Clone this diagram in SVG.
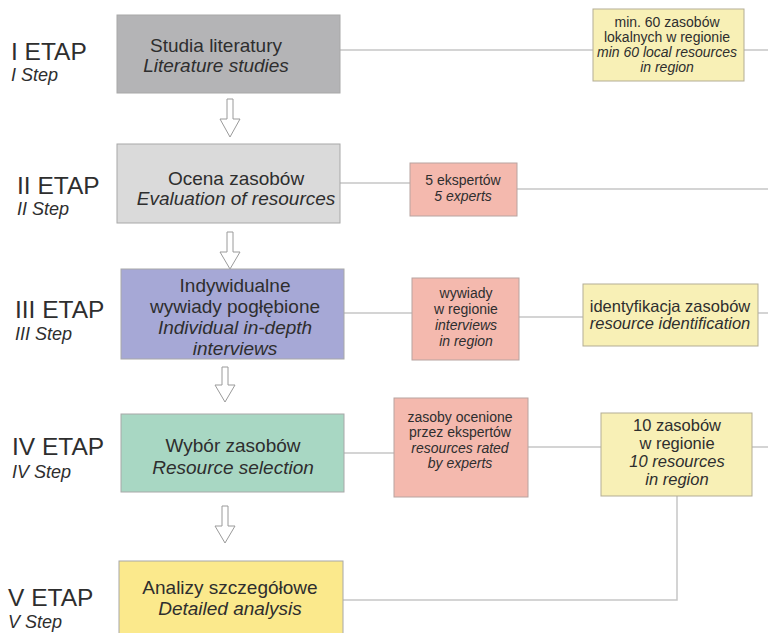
<svg xmlns="http://www.w3.org/2000/svg" width="768" height="633" viewBox="0 0 768 633">
<defs>
<style>
text{font-family:"Liberation Sans",Arial,sans-serif;fill:#2e2e2e;}
.it{font-style:italic;}
.main{font-size:19px;text-anchor:middle;}
.etap{font-size:24.5px;}
.step{font-size:18px;font-style:italic;}
.sm{font-size:14px;text-anchor:middle;}
.md{font-size:16.5px;text-anchor:middle;}
.box{stroke:#a8a8a8;stroke-width:1;}
.pink{fill:#f4b9ae;stroke:#b8a3a0;stroke-width:1;}
.yel{fill:#f8f0b6;stroke:#b3ad95;stroke-width:1;}
.conn{fill:none;stroke:#c6c6c6;stroke-width:1.5;}
.arr{fill:#fff;stroke:#9a9a9a;stroke-width:1;}
</style>
</defs>
<rect width="768" height="633" fill="#fff"/>

<g id="connectors">
<line class="conn" x1="340" y1="50" x2="593" y2="50"/>
<line class="conn" x1="744" y1="50" x2="768" y2="50"/>
<line class="conn" x1="340" y1="183" x2="410" y2="183"/>
<line class="conn" x1="517" y1="189" x2="768" y2="189"/>
<line class="conn" x1="344" y1="313" x2="412" y2="313"/>
<line class="conn" x1="519" y1="317" x2="583" y2="317"/>
<line class="conn" x1="758" y1="313" x2="768" y2="313"/>
<line class="conn" x1="344" y1="453" x2="394" y2="453"/>
<line class="conn" x1="528" y1="447" x2="601" y2="447"/>
<line class="conn" x1="752" y1="447" x2="768" y2="447"/>
<polyline class="conn" points="677,496 677,600 343,600"/>
<path class="arr" d="M227,99 H233 V119 H240 L230,137 L220,119 H227 Z"/>
<path class="arr" d="M227,232 H233 V252 H240 L230,269 L220,252 H227 Z"/>
<path class="arr" d="M222,367 H228 V385 H235 L225,402 L215,385 H222 Z"/>
<path class="arr" d="M222,506 H228 V526 H235 L225,543 L215,526 H222 Z"/>
</g>

<g id="step1">
<text class="etap" x="11" y="60">I ETAP</text>
<text class="step" x="11" y="81">I Step</text>
</g>
<g id="step2">
<text class="etap" x="17" y="194">II ETAP</text>
<text class="step" x="17" y="215">II Step</text>
</g>
<g id="step3">
<text class="etap" x="15" y="318">III ETAP</text>
<text class="step" x="15" y="340">III Step</text>
</g>
<g id="step4">
<text class="etap" x="12" y="455">IV ETAP</text>
<text class="step" x="12" y="478">IV Step</text>
</g>
<g id="step5">
<text class="etap" x="8" y="606">V ETAP</text>
<text class="step" x="8" y="628">V Step</text>
</g>

<g id="box1">
<rect class="box" x="117" y="15" width="223" height="78" fill="#b4b4b6"/>
<text class="main" x="216" y="52">Studia literatury</text>
<text class="main it" x="216" y="72">Literature studies</text>
</g>
<g id="box2">
<rect class="box" x="117" y="144" width="223" height="79" fill="#dadada"/>
<text class="main" x="236" y="185">Ocena zasobów</text>
<text class="main it" x="236" y="205">Evaluation of resources</text>
</g>
<g id="box3">
<rect class="box" x="121" y="269" width="223" height="90" fill="#a6a8d6"/>
<text class="main" x="235" y="292">Indywidualne</text>
<text class="main" x="235" y="313">wywiady pogłębione</text>
<text class="main it" x="235" y="334">Individual in-depth</text>
<text class="main it" x="235" y="355">interviews</text>
</g>
<g id="box4">
<rect class="box" x="121" y="414" width="223" height="78" fill="#a8d7c3"/>
<text class="main" x="233" y="452">Wybór zasobów</text>
<text class="main it" x="233" y="474">Resource selection</text>
</g>
<g id="box5">
<rect class="box" x="119" y="561" width="224" height="80" fill="#fbe98c"/>
<text class="main" x="230" y="594">Analizy szczegółowe</text>
<text class="main it" x="230" y="615">Detailed analysis</text>
</g>

<g id="note1">
<rect class="yel" x="593" y="9" width="151" height="72"/>
<text class="sm" x="667" y="27">min. 60 zasobów</text>
<text class="sm" x="667" y="42">lokalnych w regionie</text>
<text class="sm it" x="667" y="57">min 60 local resources</text>
<text class="sm it" x="667" y="72">in region</text>
</g>
<g id="note2">
<rect class="pink" x="410" y="163" width="107" height="53"/>
<text class="sm" x="463" y="185">5 ekspertów</text>
<text class="sm it" x="463" y="201">5 experts</text>
</g>
<g id="note3">
<rect class="pink" x="412" y="278" width="107" height="82"/>
<text class="sm" x="466" y="298">wywiady</text>
<text class="sm" x="466" y="314">w regionie</text>
<text class="sm it" x="466" y="330">interviews</text>
<text class="sm it" x="466" y="346">in region</text>
</g>
<g id="note4">
<rect class="yel" x="583" y="284" width="175" height="62"/>
<text class="md" x="670" y="312">identyfikacja zasobów</text>
<text class="md it" x="670" y="329">resource identification</text>
</g>
<g id="note5">
<rect class="pink" x="394" y="398" width="134" height="99"/>
<text class="sm" x="460" y="422">zasoby ocenione</text>
<text class="sm" x="460" y="437">przez ekspertów</text>
<text class="sm it" x="460" y="453">resources rated</text>
<text class="sm it" x="460" y="468">by experts</text>
</g>
<g id="note6">
<rect class="yel" x="601" y="413" width="151" height="83"/>
<text class="md" x="677" y="431">10 zasobów</text>
<text class="md" x="677" y="449">w regionie</text>
<text class="md it" x="677" y="467">10 resources</text>
<text class="md it" x="677" y="485">in region</text>
</g>
</svg>
